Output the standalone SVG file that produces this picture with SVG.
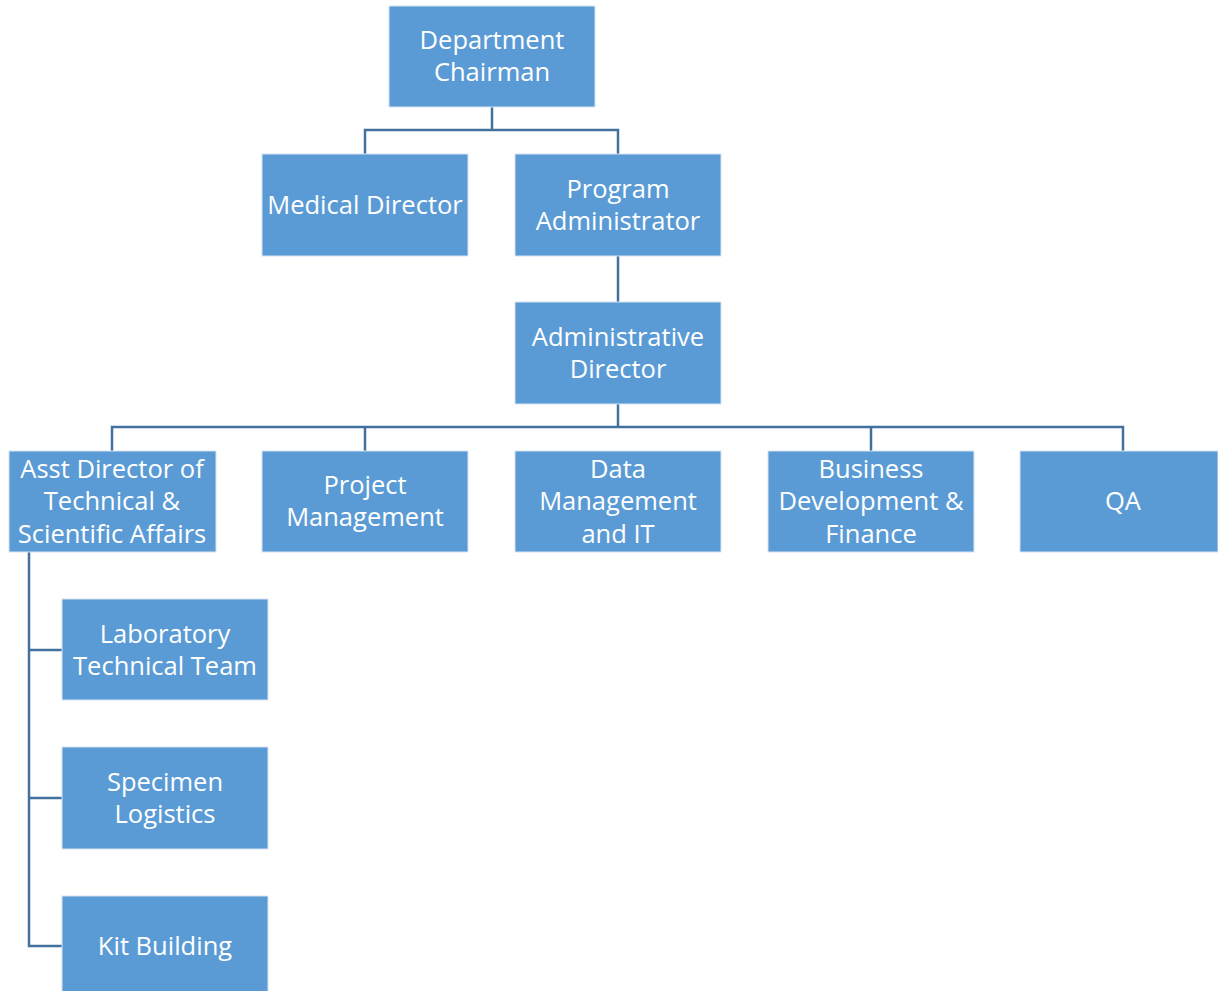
<svg xmlns="http://www.w3.org/2000/svg" width="1218" height="991" viewBox="0 0 1218 991">
<style>
.box{fill:#5B9BD5;stroke:#D6E4F2;stroke-width:1}
.t{font-family:"Open Sans","Noto Sans",sans-serif;font-size:25.5px;fill:#FFFFFF;text-anchor:middle}
.c{fill:none;stroke:#41719C;stroke-width:2.5}
</style>
<rect width="1218" height="991" fill="#FFFFFF"/>
<g id="connectors">
<path class="c" d="M492 107V130M365 154V130H618V154"/>
<path class="c" d="M618 256V302"/>
<path class="c" d="M618 404V427M112 451V427H1123V451M365 427V451M871 427V451"/>
<path class="c" d="M29 552V946H62M29 650H62M29 798H62"/>
</g>
<g id="n-chairman"><rect class="box" x="389" y="6" width="206" height="101"/><text class="t" x="492" y="49">Department</text><text class="t" x="492" y="81">Chairman</text></g>
<g id="n-medical"><rect class="box" x="262" y="154" width="206" height="102"/><text class="t" x="365" y="214">Medical Director</text></g>
<g id="n-program"><rect class="box" x="515" y="154" width="206" height="102"/><text class="t" x="618" y="198">Program</text><text class="t" x="618" y="230">Administrator</text></g>
<g id="n-admin"><rect class="box" x="515" y="302" width="206" height="102"/><text class="t" x="618" y="346">Administrative</text><text class="t" x="618" y="378">Director</text></g>
<g id="n-asst"><rect class="box" x="9" y="451" width="207" height="101"/><text class="t" x="112" y="478">Asst Director of</text><text class="t" x="112" y="510">Technical &amp;</text><text class="t" x="112" y="543">Scientific Affairs</text></g>
<g id="n-project"><rect class="box" x="262" y="451" width="206" height="101"/><text class="t" x="365" y="494">Project</text><text class="t" x="365" y="526">Management</text></g>
<g id="n-data"><rect class="box" x="515" y="451" width="206" height="101"/><text class="t" x="618" y="478">Data</text><text class="t" x="618" y="510">Management</text><text class="t" x="618" y="543">and IT</text></g>
<g id="n-business"><rect class="box" x="768" y="451" width="206" height="101"/><text class="t" x="871" y="478">Business</text><text class="t" x="871" y="510">Development &amp;</text><text class="t" x="871" y="543">Finance</text></g>
<g id="n-qa"><rect class="box" x="1020" y="451" width="198" height="101"/><text class="t" x="1123" y="510">QA</text></g>
<g id="n-lab"><rect class="box" x="62" y="599" width="206" height="101"/><text class="t" x="165" y="643">Laboratory</text><text class="t" x="165" y="675">Technical Team</text></g>
<g id="n-specimen"><rect class="box" x="62" y="747" width="206" height="102"/><text class="t" x="165" y="791">Specimen</text><text class="t" x="165" y="823">Logistics</text></g>
<g id="n-kit"><rect class="box" x="62" y="896" width="206" height="96"/><text class="t" x="165" y="955">Kit Building</text></g>
</svg>
